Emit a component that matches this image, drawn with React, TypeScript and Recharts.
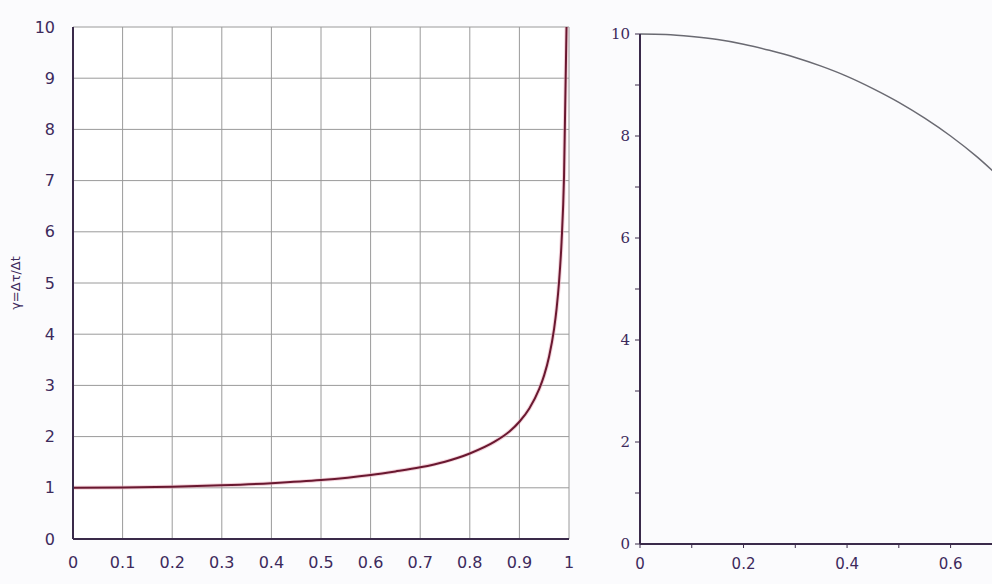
import { LineChart, Line, XAxis, YAxis, CartesianGrid, Label } from 'recharts'

// left panel: γ against v/c
const speedX = [0, 0.1, 0.2, 0.3, 0.4, 0.5, 0.6, 0.65, 0.7, 0.75, 0.8, 0.85, 0.88, 0.9, 0.92, 0.94, 0.95, 0.96, 0.97, 0.975, 0.98, 0.985, 0.99, 0.995]
const gammaY = [1, 1.005, 1.02, 1.05, 1.09, 1.15, 1.25, 1.32, 1.4, 1.51, 1.67, 1.9, 2.1, 2.29, 2.55, 2.93, 3.2, 3.57, 4.11, 4.5, 5.03, 5.8, 7.09, 10]
const leftXTicks = [0, 0.1, 0.2, 0.3, 0.4, 0.5, 0.6, 0.7, 0.8, 0.9, 1]
const leftYTicks = [0, 1, 2, 3, 4, 5, 6, 7, 8, 9, 10]

// right panel: descending arc, cut off at the window edge
const arcX = [0, 0.05, 0.1, 0.15, 0.2, 0.25, 0.3, 0.35, 0.4, 0.45, 0.5, 0.55, 0.6, 0.65, 0.7]
const arcY = [10, 9.99, 9.95, 9.89, 9.8, 9.68, 9.54, 9.37, 9.17, 8.93, 8.66, 8.35, 8, 7.6, 7.14]
const rightXTicks = [0, 0.1, 0.2, 0.3, 0.4, 0.5, 0.6]
const rightYTicks = [0, 1, 2, 3, 4, 5, 6, 7, 8, 9, 10]

const gammaData = speedX.map((x, i) => ({ x, y: gammaY[i] }))
const arcData = arcX.map((x, i) => ({ x, y: arcY[i] }))

const labelColor = '#3d2a5c'
const axisColor = '#3a2a4a'

export default function App() {
  return (
    <div style={{ position: 'absolute', left: 0, top: 0, width: 992, height: 584, overflow: 'hidden', background: '#fbfbfd' }}>

      {/* left chart */}
      <div style={{ position: 'absolute', left: 0, top: 0 }}>
        <LineChart width={600} height={584} data={gammaData} margin={{ top: 27, right: 31, bottom: 15, left: 13 }}>
          <CartesianGrid stroke="#9a9a9a" strokeWidth={1} fill="#ffffff" />
          <XAxis
            dataKey="x"
            type="number"
            domain={[0, 1]}
            ticks={leftXTicks}
            height={30}
            tickSize={0}
            tickMargin={18}
            axisLine={{ stroke: axisColor, strokeWidth: 2 }}
            tick={{ fill: labelColor, fontSize: 16, fontFamily: 'DejaVu Sans' }}
          />
          <YAxis
            type="number"
            domain={[0, 10]}
            ticks={leftYTicks}
            width={60}
            tickSize={0}
            tickMargin={18}
            axisLine={{ stroke: axisColor, strokeWidth: 2 }}
            tick={{ fill: labelColor, fontSize: 16, fontFamily: 'DejaVu Sans' }}
          >
            <Label
              value="γ=Δτ/Δt"
              angle={-90}
              position="insideLeft"
              offset={2}
              style={{ fill: labelColor, fontSize: 13, fontFamily: 'DejaVu Sans', textAnchor: 'middle' }}
            />
          </YAxis>
          <Line type="monotone" dataKey="y" stroke="#e8a8b8" strokeWidth={4} strokeOpacity={0.5} dot={false} isAnimationActive={false} />
          <Line type="monotone" dataKey="y" stroke="#6a1830" strokeWidth={2} dot={false} isAnimationActive={false} />
        </LineChart>
      </div>

      {/* right chart */}
      <div style={{ position: 'absolute', left: 560, top: 0 }}>
        <LineChart width={432} height={584} data={arcData} margin={{ top: 34, right: 0, bottom: 10, left: 30 }}>
          <XAxis
            dataKey="x"
            type="number"
            domain={[0, 0.68]}
            allowDataOverflow
            ticks={rightXTicks}
            tickFormatter={(v: number) => (Math.round(v * 10) % 2 === 0 ? String(v) : '')}
            height={30}
            tickSize={4}
            tickMargin={10}
            stroke={axisColor}
            axisLine={{ stroke: axisColor, strokeWidth: 2 }}
            tick={{ fill: labelColor, fontSize: 15, fontFamily: 'DejaVu Sans' }}
          />
          <YAxis
            type="number"
            domain={[0, 10]}
            ticks={rightYTicks}
            tickFormatter={(v: number) => (v % 2 === 0 ? String(v) : '')}
            width={50}
            tickSize={5}
            tickMargin={5}
            stroke={axisColor}
            axisLine={{ stroke: axisColor, strokeWidth: 2 }}
            tick={{ fill: labelColor, fontSize: 15, fontFamily: 'DejaVu Serif' }}
          />
          <Line type="monotone" dataKey="y" stroke="#6a6a72" strokeWidth={1.5} dot={false} isAnimationActive={false} />
        </LineChart>
      </div>

    </div>
  )
}
